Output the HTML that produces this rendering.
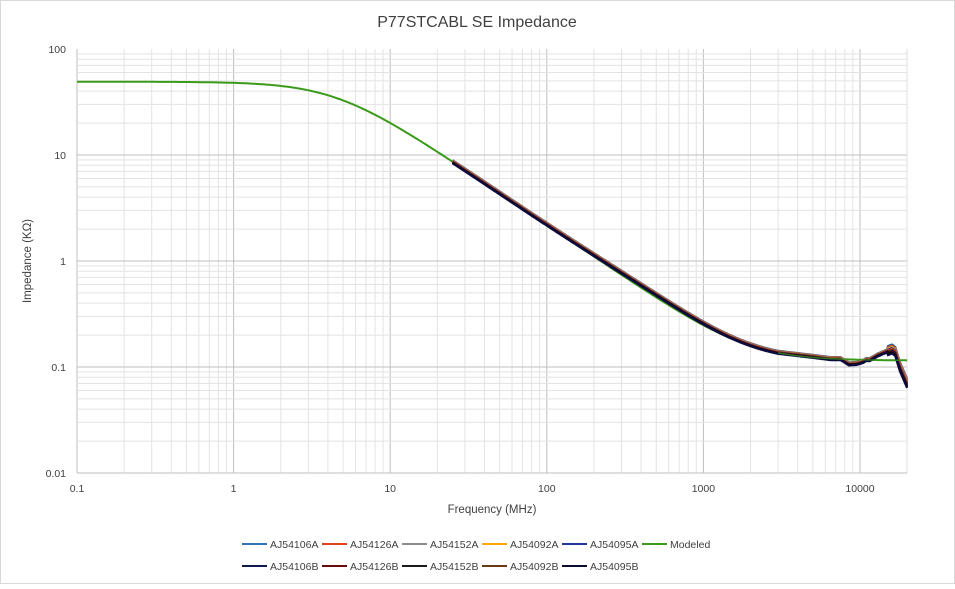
<!DOCTYPE html>
<html><head><meta charset="utf-8"><style>
body{margin:0;background:#fff;font-family:"Liberation Sans",sans-serif;}
svg text{font-family:"Liberation Sans",sans-serif;}
</style></head><body>
<svg id="s" width="955" height="584" xmlns="http://www.w3.org/2000/svg">
<rect x="0.5" y="0.5" width="954" height="583" fill="#fff" stroke="#d9d9d9"/>
<text x="477" y="27" font-size="16" text-anchor="middle" fill="#404040">P77STCABL SE Impedance</text>
<g id="grid"></g>
<g id="lbl" font-size="10.5" fill="#404040"></g>
<text x="492" y="513" font-size="11.5" text-anchor="middle" fill="#404040">Frequency (MHz)</text>
<text transform="translate(31,261) rotate(-90)" font-size="11.5" text-anchor="middle" fill="#404040">Impedance (KΩ)</text>
<g id="data"></g>
<g id="leg" font-size="10.5" fill="#404040"></g>
</svg>
<script>
const X0=77,X1=907,Y0=49,Y1=473;
const px=f=>77+156.6*(Math.log10(f)+1);
const py=z=>261-106*Math.log10(z);
let g='';
for(let d=-1;d<=4;d++)for(let k=1;k<=9;k++){const f=k*Math.pow(10,d);const x=px(f);if(x>X1+0.5)break;
g+=`<line x1="${x}" y1="${Y0}" x2="${x}" y2="${Y1}" stroke="${k==1?'#bfbfbf':'#e3e3e3'}" stroke-width="1"/>`;}
for(let d=-2;d<=1;d++)for(let k=1;k<=9;k++){const y=py(k*Math.pow(10,d));
g+=`<line x1="${X0}" y1="${y}" x2="${X1}" y2="${y}" stroke="${k==1?'#bfbfbf':'#e3e3e3'}" stroke-width="1"/>`;}
g+=`<line x1="${X1}" y1="${Y0}" x2="${X1}" y2="${Y1}" stroke="#e3e3e3"/><line x1="${X0}" y1="${Y1}" x2="${X1}" y2="${Y1}" stroke="#bfbfbf"/>`;
document.getElementById('grid').innerHTML=g;
let l='';
['0.1','1','10','100','1000','10000'].forEach((t,i)=>{l+=`<text x="${px(Math.pow(10,i-1))}" y="492" text-anchor="middle">${t}</text>`});
['100','10','1','0.1','0.01'].forEach((t,i)=>{l+=`<text x="66" y="${49+106*i+4}" text-anchor="end">${t}</text>`});
document.getElementById('lbl').innerHTML=l;
function model(f){const fc=4.47,R=0.115;const a=f/fc;const re=R+49/(1+a*a),im=-49*a/(1+a*a);return Math.hypot(re,im);}
function base(f){let b=1+0.07*Math.exp(-Math.pow(Math.log10(f/500),2)/0.3);return model(f)*b;}
const pts=[[3000,base(3000)],[5000,0.126],[6500,0.12],[7500,0.12],[8500,0.107],[9500,0.108],[10500,0.113],[11000,0.118],[11500,0.117],[13000,0.13],[16000,0.148],[16800,0.14],[18000,0.1],[20000,0.07]];
function meas(f){if(f<3000)return base(f);
for(let i=0;i<pts.length-1;i++){if(f<=pts[i+1][0]){const t=(Math.log(f)-Math.log(pts[i][0]))/(Math.log(pts[i+1][0])-Math.log(pts[i][0]));return Math.exp(Math.log(pts[i][1])*(1-t)+Math.log(pts[i+1][1])*t);}}return 0.07;}
function path(fn,a,b,off){let s='';const n=500;for(let i=0;i<=n;i++){const f=a*Math.pow(b/a,i/n);s+=(i?'L':'M')+px(f).toFixed(1)+','+(py(fn(f))+off(f)).toFixed(1);}return s;}
let d='';
d+=`<path d="${path(model,0.1,20000,()=>0)}" fill="none" stroke="#3a9a1a" stroke-width="2"/>`;
const cols=['#0070c0','#e03000','#808080','#ffa500','#1f3aa0','#d04020','#7a2a00','#101050','#600000','#000000','#0c0c40'];
cols.forEach((c,i)=>{const o=(i-5)*0.3;d+=`<path d="${path(meas,25,20000,f=>o*(f>15000?3:1))}" fill="none" stroke="${c}" stroke-width="2.2"/>`;});
d+=`<path d="${path(model,3000,20000,()=>0)}" fill="none" stroke="#3a9a1a" stroke-width="1.5" opacity="0.7"/>`;
document.getElementById('data').innerHTML=d;
const L1=[['AJ54106A','#2e75b6'],['AJ54126A','#e0401a'],['AJ54152A','#8c8c8c'],['AJ54092A','#ffa500'],['AJ54095A','#1f3a9a'],['Modeled','#3a9a1a']];
const L2=[['AJ54106B','#0f1a4a'],['AJ54126B','#6a0a0a'],['AJ54152B','#1a1a1a'],['AJ54092B','#6a3a10'],['AJ54095B','#0c0c30']];
let lg='';const xs=[242,322,402,482,562,642];
[L1,L2].forEach((L,r)=>L.forEach((it,i)=>{const x=xs[i],y=544+r*22;lg+=`<line x1="${x}" y1="${y}" x2="${x+25}" y2="${y}" stroke="${it[1]}" stroke-width="2"/><text x="${x+28}" y="${y+4}">${it[0]}</text>`;}));
document.getElementById('leg').innerHTML=lg;
</script>
</body></html>
